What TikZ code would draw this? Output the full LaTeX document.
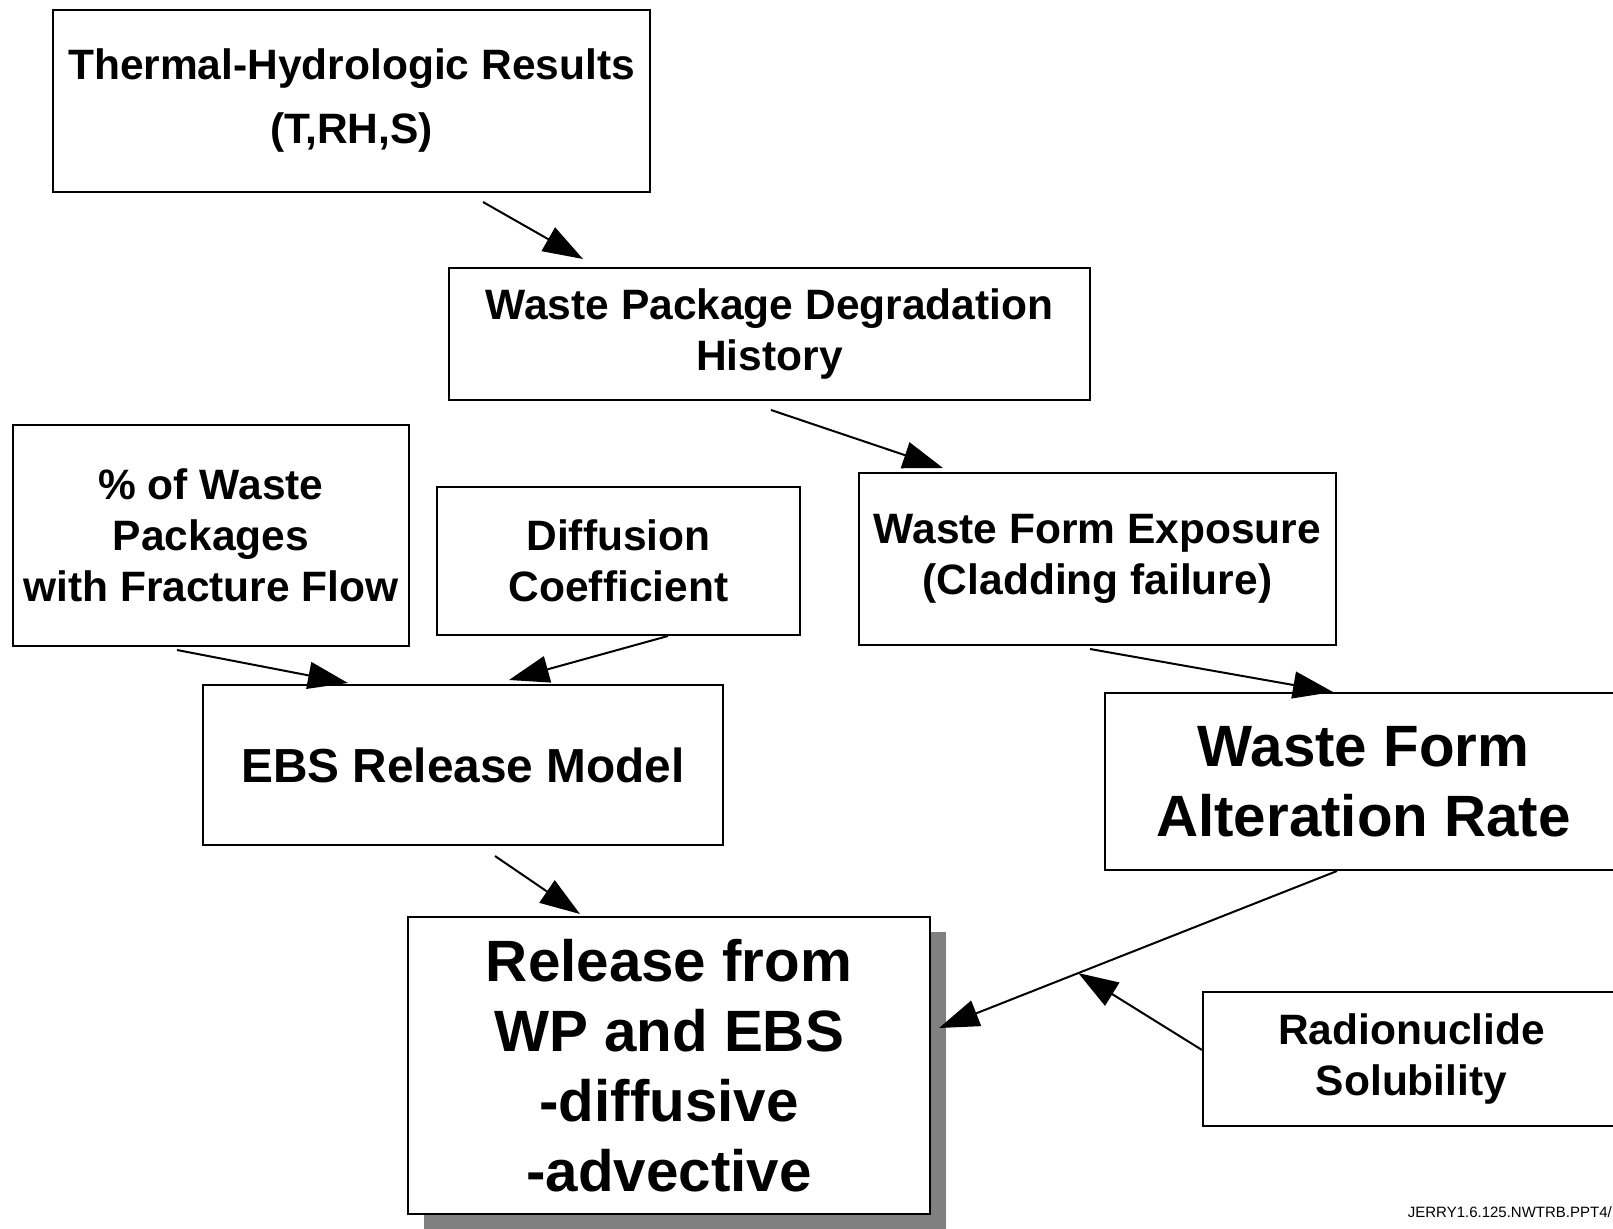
\documentclass[tikz,border=0pt]{standalone}
\usepackage{fontspec}
\setmainfont{Liberation Sans}
\usetikzlibrary{arrows.meta,shadows}
\tikzset{
    box/.style={draw, line width=2pt, fill=white, align=center, inner sep=0pt, font=\fontsize{42.5}{51}\selectfont\bfseries}, % text boxes
    big/.style={font=\fontsize{58.3}{70}\selectfont\bfseries}, % large labels
    link/.style={line width=2pt, -{Triangle[length=40pt, width=27pt]}} % arrows between boxes
}

\begin{document}
\begin{tikzpicture}[x=1pt, y=-1pt]
    \useasboundingbox (0,0) rectangle (1613,1228);
    \clip (0,0) rectangle (1613,1228);

    \node[box, minimum width=597pt, minimum height=182pt, font=\fontsize{42.5}{64}\selectfont\bfseries] (th) at (351.5,101) {Thermal-Hydrologic Results\\(T,RH,S)};
    \node[box, minimum width=641pt, minimum height=132pt] (wp) at (769.5,334) {Waste Package Degradation\\History};
    \node[box, minimum width=396pt, minimum height=221pt] (pct) at (211,535.5) {\% of Waste\\Packages\\with Fracture Flow};
    \node[box, minimum width=363pt, minimum height=148pt] (dc) at (618.5,561) {Diffusion\\Coefficient};
    \node[box, minimum width=477pt, minimum height=172pt] (wfe) at (1097.5,559) {Waste Form Exposure\\(Cladding failure)};
    \node[box, minimum width=520pt, minimum height=160pt, font=\fontsize{47.8}{57}\selectfont\bfseries] (ebs) at (463,765) {EBS Release Model};
    \node[box, big, minimum width=517pt, minimum height=177pt] (wfa) at (1363.5,781.5) {Waste Form\\Alteration Rate};
    \node[box, big, minimum width=522pt, minimum height=297pt,
          drop shadow={shadow xshift=16pt, shadow yshift=-15pt, fill=black!50, opacity=1}] (rel) at (669,1065.5) {Release from\\WP and EBS\\-diffusive\\-advective};
    \node[box, minimum width=417pt, minimum height=134pt] (rs) at (1411.5,1059) {Radionuclide\\Solubility};

    \draw[link] ([shift={(131.5,9)}]th.south) -- ([shift={(-186.5,-8)}]wp.north);
    \draw[link] ([shift={(1.5,9)}]wp.south) -- ([shift={(-154.5,-4)}]wfe.north);
    \draw[link] ([shift={(-34,3)}]pct.south) -- ([shift={(-115,-1)}]ebs.north);
    \draw[link] ([shift={(49.5,0)}]dc.south) -- ([shift={(46,-4)}]ebs.north);
    \draw[link] ([shift={(-7.5,3)}]wfe.south) -- ([shift={(-30.5,0)}]wfa.north);
    \draw[link] ([shift={(32,10)}]ebs.south) -- ([shift={(-89,-2)}]rel.north);
    \draw[link] ([shift={(-26.5,0)}]wfa.south) -- coordinate[pos=0.65] (meet) ([shift={(8,-37.5)}]rel.east);
    \draw[link] ([shift={(0,-9)}]rs.west) -- (meet);

    \node[anchor=east, inner sep=0pt, font=\fontsize{15}{18}\selectfont] (tag) at (1612,1212) {JERRY1.6.125.NWTRB.PPT4/};
\end{tikzpicture}
\end{document}
